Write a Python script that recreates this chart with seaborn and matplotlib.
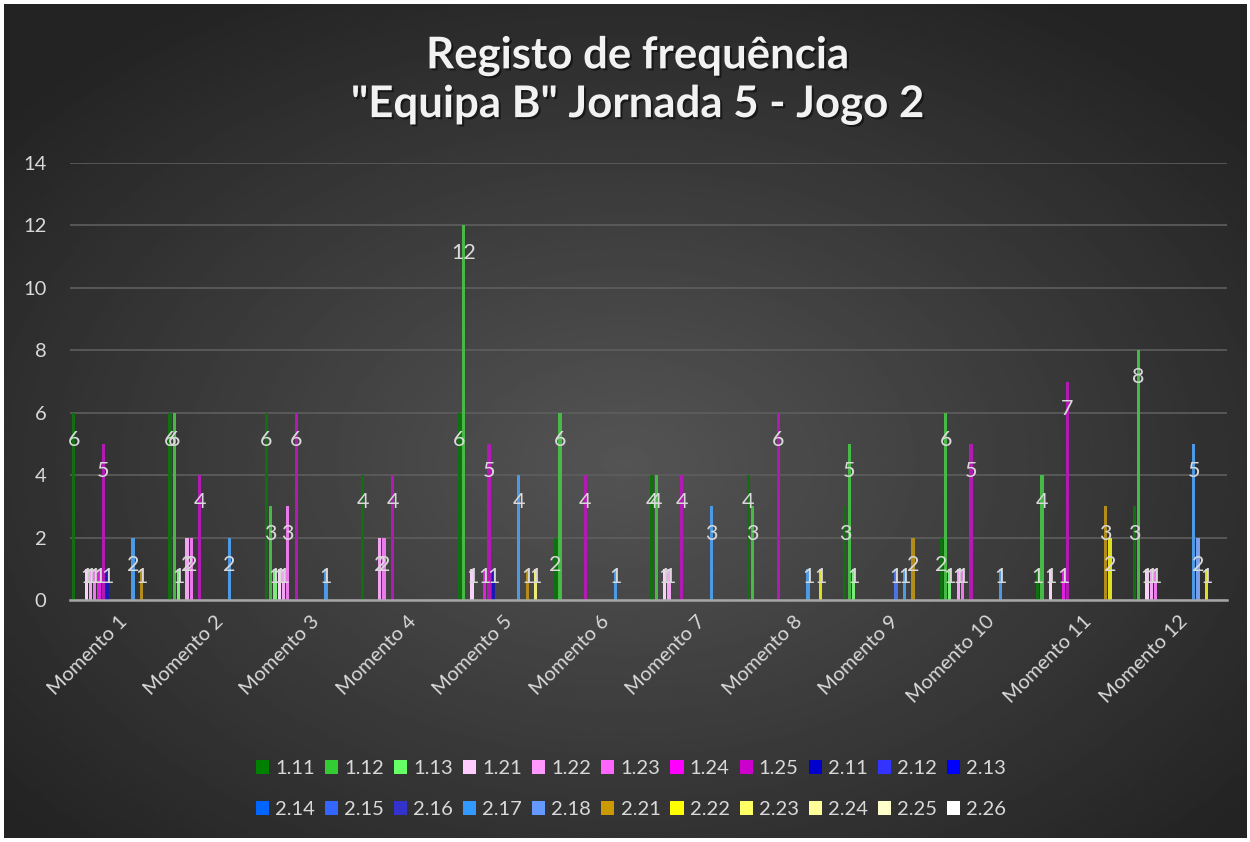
import numpy as np
import pandas as pd
import matplotlib.pyplot as plt
import matplotlib.patheffects as pe
from matplotlib.patches import Patch
import seaborn as sns

# Categories and series
momentos = [f"Momento {i}" for i in range(1, 13)]
codigos = ["1.11", "1.12", "1.13", "1.21", "1.22", "1.23", "1.24", "1.25",
           "2.11", "2.12", "2.13", "2.14", "2.15", "2.16", "2.17", "2.18",
           "2.21", "2.22", "2.23", "2.24", "2.25", "2.26"]
cores = ["#008000", "#33CC33", "#66FF66", "#FFCCFF", "#FF99FF", "#FF66FF",
         "#FF00FF", "#CC00CC", "#0000CC", "#3333FF", "#0000FF", "#0066FF",
         "#3366FF", "#3333CC", "#3399FF", "#6699FF", "#CC9900", "#FFFF00",
         "#FFFF66", "#FFFF99", "#FFFFCC", "#FFFFFF"]

# frequency per code, one value per momento (1..12)
v_111 = [6, 6, 6, 4, 6, 2, 4, 4, 3, 2, 1, 3]
v_112 = [0, 6, 3, 0, 12, 6, 4, 3, 5, 6, 4, 8]
v_113 = [0, 1, 1, 0, 0, 0, 0, 0, 1, 1, 0, 0]
v_121 = [1, 0, 1, 0, 1, 0, 1, 0, 0, 0, 1, 1]
v_122 = [1, 2, 1, 2, 0, 0, 1, 0, 0, 1, 0, 1]
v_123 = [1, 2, 3, 2, 0, 0, 0, 0, 0, 1, 0, 1]
v_124 = [1, 0, 0, 0, 1, 0, 0, 0, 0, 0, 1, 0]
v_125 = [5, 4, 6, 4, 5, 4, 4, 6, 0, 5, 7, 0]
v_211 = [1, 0, 0, 0, 1, 0, 0, 0, 0, 0, 0, 0]
v_212 = [0, 0, 0, 0, 0, 0, 0, 0, 0, 0, 0, 0]
v_213 = [0, 0, 0, 0, 0, 0, 0, 0, 0, 0, 0, 0]
v_214 = [0, 0, 0, 0, 0, 0, 0, 0, 0, 0, 0, 0]
v_215 = [0, 0, 0, 0, 0, 0, 0, 0, 1, 0, 0, 0]
v_216 = [0, 0, 0, 0, 0, 0, 0, 0, 0, 0, 0, 0]
v_217 = [2, 2, 1, 0, 4, 1, 3, 1, 1, 1, 0, 5]
v_218 = [0, 0, 0, 0, 0, 0, 0, 0, 0, 0, 0, 2]
v_221 = [1, 0, 0, 0, 1, 0, 0, 0, 2, 0, 3, 0]
v_222 = [0, 0, 0, 0, 0, 0, 0, 1, 0, 0, 2, 1]
v_223 = [0, 0, 0, 0, 1, 0, 0, 0, 0, 0, 0, 0]
v_224 = [0, 0, 0, 0, 0, 0, 0, 0, 0, 0, 0, 0]
v_225 = [0, 0, 0, 0, 0, 0, 0, 0, 0, 0, 0, 0]
v_226 = [0, 0, 0, 0, 0, 0, 0, 0, 0, 0, 0, 0]

series = [v_111, v_112, v_113, v_121, v_122, v_123, v_124, v_125,
          v_211, v_212, v_213, v_214, v_215, v_216, v_217, v_218,
          v_221, v_222, v_223, v_224, v_225, v_226]

rows = []
for cod, vals in zip(codigos, series):
    for mom, v in zip(momentos, vals):
        rows.append({"Momento": mom, "Codigo": cod, "Freq": v})
df = pd.DataFrame(rows)

plt.rcParams['font.family'] = ['Lato', 'DejaVu Sans']
txt = "#D9D9D9"

fig = plt.figure(figsize=(12.5, 8.42), dpi=100, facecolor="white")

# dark radial gradient background
bg = fig.add_axes([0.003, 0.005, 0.994, 0.99], zorder=-10)
yy, xx = np.mgrid[0:1:300j, 0:1:450j]
r = np.sqrt(((xx - 0.5) / 0.75) ** 2 + ((yy - 0.55) / 0.75) ** 2)
shade = np.clip(0.33 - 0.22 * r, 0.14, 0.33)
bg.imshow(shade, cmap="gray", vmin=0, vmax=1, aspect="auto", extent=[0, 1, 0, 1])
bg.axis("off")

ax = fig.add_axes([0.056, 0.2874, 0.9256, 0.519])
ax.set_facecolor("none")

sns.barplot(data=df, x="Momento", y="Freq", hue="Codigo", order=momentos,
            hue_order=codigos, palette=cores, width=0.97, gap=0.25,
            legend=False, ax=ax, zorder=3)

# data labels
for cont, vals in zip(ax.containers, series):
    for patch, v in zip(cont.patches, vals):
        if v == 0:
            continue
        x = patch.get_x() + patch.get_width() / 2
        y = max(v - 0.87, 0.74)
        ax.text(x, y, str(v), ha="center", va="center", color=txt,
                fontsize=15.5, zorder=5)

ax.set_ylim(0, 14)
ax.set_yticks(range(0, 15, 2))
ax.grid(axis="y", color="#5E5E5E", linewidth=1.2, zorder=0)
ax.set_axisbelow(True)
for s in ["top", "right", "left"]:
    ax.spines[s].set_visible(False)
ax.spines["bottom"].set_color("#A6A6A6")
ax.spines["bottom"].set_linewidth(1.8)
ax.spines["bottom"].set_zorder(4)
ax.tick_params(axis="both", length=0, colors=txt, labelsize=14.5)
ax.tick_params(axis="y", pad=17)
ax.set_xlabel("")
ax.set_ylabel("")
plt.setp(ax.get_xticklabels(), rotation=45, ha="right", rotation_mode="anchor")
ax.tick_params(axis="x", pad=9)

# title
fig.text(0.51, 0.905, 'Registo de frequência\n"Equipa B" Jornada 5 - Jogo 2',
         ha="center", va="center", fontsize=31.5, fontweight="bold",
         color="#F2F2F2", linespacing=1.25,
         path_effects=[pe.withSimplePatchShadow(offset=(1.5, -1.5),
                                                shadow_rgbFace="black", alpha=0.5)])

# legend, filled row by row (matplotlib fills columns first)
handles = [Patch(facecolor=c, edgecolor="none", label=l) for c, l in zip(cores, codigos)]
ncol = 11
ordered = []
for j in range(ncol):
    ordered.append(handles[j])
    ordered.append(handles[j + ncol])
fig.legend(handles=ordered, loc="center", bbox_to_anchor=(0.505, 0.063),
           ncol=ncol, frameon=False, fontsize=14.5, labelcolor=txt,
           handlelength=0.65, handleheight=0.65, handletextpad=0.3,
           columnspacing=0.5, labelspacing=1.2)

fig.savefig("out.png", dpi=100, facecolor="white")
